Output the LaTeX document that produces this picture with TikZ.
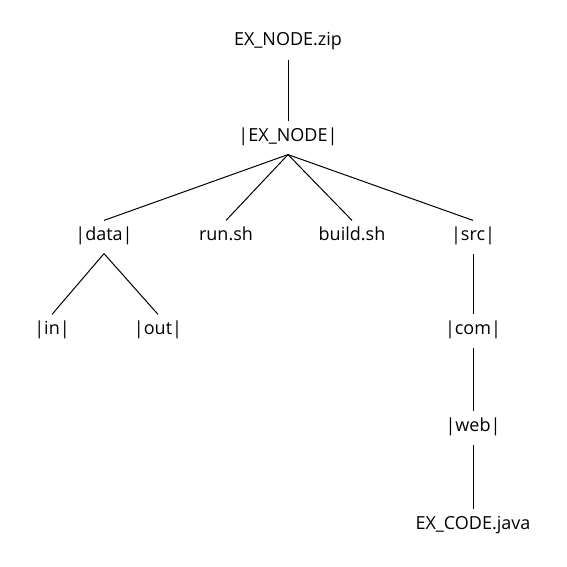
\documentclass[tikz,border=0pt]{standalone}
\usepackage{fontspec}
\setmainfont{Open Sans}
\usetikzlibrary{positioning}
\tikzstyle{entry} = [inner sep=6pt, text height=0.85em, text depth=0.4em, font=\fontsize{13.5}{16}\selectfont]
\tikzstyle{edge}  = [line width=0.75pt]

\begin{document}
\begin{tikzpicture}[x=0.75pt, y=-0.75pt]

\useasboundingbox (0,0) rectangle (567,567);

\node[entry] (zip)   at (288,43)  {EX\_NODE.zip};
\node[entry] (root)  at (288,138) {|EX\_NODE|};

\node[entry] (data)  at (104,237) {|data|};
\node[entry] (run)   at (226,237) {run.sh};
\node[entry] (build) at (352,237) {build.sh};
\node[entry] (src)   at (473,237) {|src|};

\node[entry] (in)    at (52,331)  {|in|};
\node[entry] (out)   at (158,331) {|out|};
\node[entry] (com)   at (473,331) {|com|};

\node[entry] (web)   at (473,428) {|web|};
\node[entry] (java)  at (473,526) {EX\_CODE.java};

\draw[edge] (zip.south) -- (root.north);

\draw[edge] (root.south) -- (data.north);
\draw[edge] (root.south) -- (run.north);
\draw[edge] (root.south) -- (build.north);
\draw[edge] (root.south) -- (src.north);

\draw[edge] (data.south) -- (in.north);
\draw[edge] (data.south) -- (out.north);

\draw[edge] (src.south) -- (com.north);
\draw[edge] (com.south) -- (web.north);
\draw[edge] (web.south) -- (java.north);

\end{tikzpicture}
\end{document}
